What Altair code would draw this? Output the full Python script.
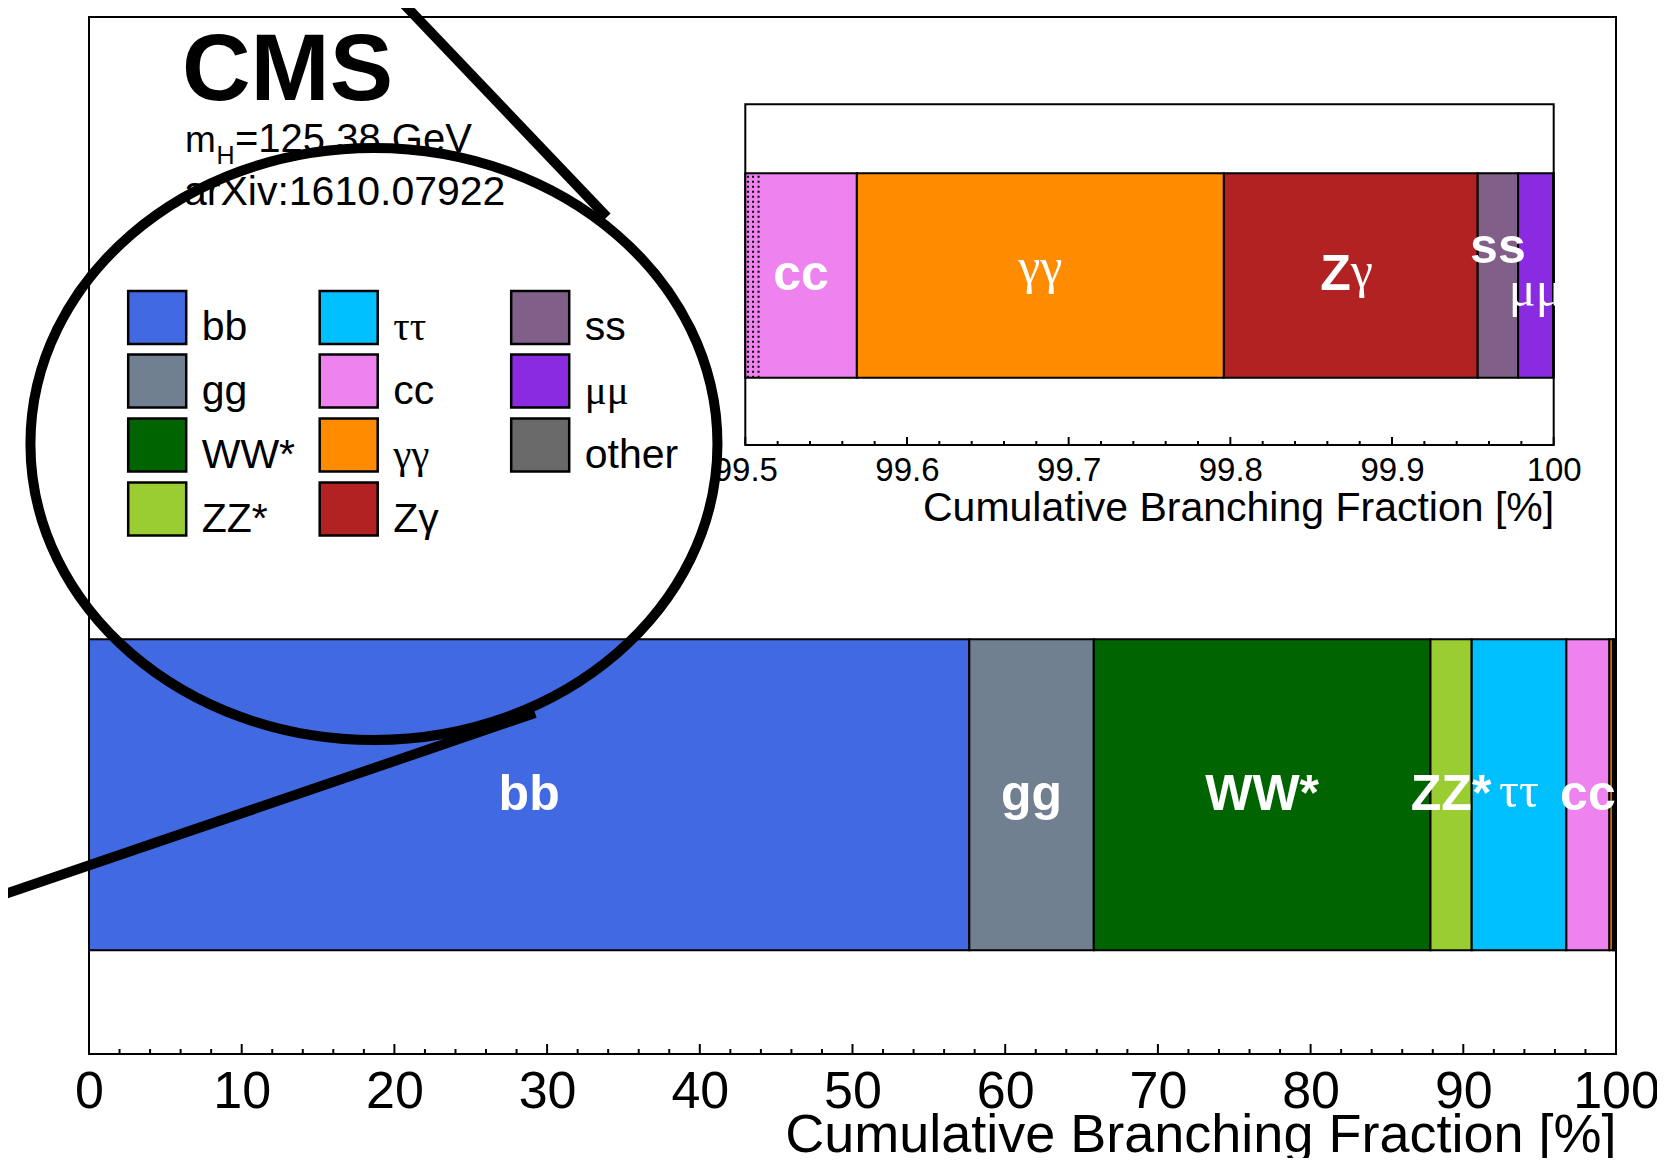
import altair as alt
import pandas as pd

# ---------------- data ----------------
channels = ["bb", "gg", "WW*", "ZZ*", "ττ", "cc", "γγ", "Zγ", "ss", "μμ", "other"]
branching_pct = [57.65, 8.15, 22.05, 2.70, 6.20, 2.819, 0.227, 0.157, 0.025, 0.0217, 0.0003]
channel_colors = ["#4169E1", "#708090", "#006400", "#9ACD32", "#00BFFF", "#EE82EE",
                  "#FF8C00", "#B22222", "#805F88", "#8A2BE2", "#696969"]
legend_order = ["bb", "gg", "WW*", "ZZ*", "ττ", "cc", "γγ", "Zγ", "ss", "μμ", "other"]
greek_labels = ["ττ", "γγ", "μμ"]

main_labels_sans = ["bb", "gg", "WW*", "ZZ*", "cc"]
main_labels_serif = ["ττ"]
inset_labels_sans = ["cc"]
inset_labels_serif = ["γγ"]

main_major_ticks = [0, 10, 20, 30, 40, 50, 60, 70, 80, 90, 100]
main_minor_ticks = [v for v in range(0, 101, 2) if v % 10]
inset_major_ticks = [99.5, 99.6, 99.7, 99.8, 99.9, 100.0]
inset_minor_ticks = [round(99.5 + 0.02 * i, 2) for i in range(26) if i % 5]
inset_hatch_x = [99.5017, 99.5048, 99.5082]

# magnifier decoration (x in %, y as fraction of the frame height)
lens_x = [18.66]
lens_y = [0.5882]
connector_seg = ["a", "a", "b", "b"]
connector_x = [19.12, 33.92, -7.79, 29.21]
connector_y = [1.0357, 0.8071, 0.1427, 0.3288]

# ---------------- layout ----------------
W, H = 1527, 1037
FONT = "Liberation Sans"
SERIF = "Liberation Serif"
INSET_LO, INSET_HI = 99.5, 100.0

df = pd.DataFrame({"name": channels, "value": branching_pct})
df["end"] = df["value"].cumsum()
df["start"] = df["end"] - df["value"]
df["mid"] = (df["start"] + df["end"]) / 2
df["imid"] = (df["start"].clip(lower=INSET_LO) + df["end"]) / 2

color_map = dict(zip(channels, channel_colors))
rect_path = "M -1.036 -1.339 L 1.036 -1.339 L 1.036 0.554 L -1.036 0.554 Z"
greek_js = "[" + ",".join(f"'{g}'" for g in greek_labels) + "]"
color_enc = alt.Color(
    "name:N",
    scale=alt.Scale(domain=legend_order, range=[color_map[n] for n in legend_order]),
    legend=alt.Legend(
        title=None, orient="none", legendX=38.7, legendY=281.5, columns=3,
        symbolType=rect_path, symbolSize=3136, symbolStrokeColor="black",
        symbolStrokeWidth=2.5, symbolOpacity=1,
        labelFont={"expr": f"indexof({greek_js}, datum.value) >= 0 ? '{SERIF}' : '{FONT}'"},
        labelFontSize=41, labelColor="black", labelOffset=15, labelLimit=400, rowPadding=0,
        columnPadding=18.5, gridAlign="all", padding=0,
    ),
)

yscale = alt.Scale(domain=[0, 1], nice=False, zero=False)


def mx():
    return alt.Scale(domain=[0, 100], nice=False, zero=False)


def ix():
    return alt.Scale(domain=[INSET_LO, INSET_HI], range=[656.3, 1464.7], nice=False, zero=False, clamp=True)


def ydat(v):
    return alt.Y(datum=v, type="quantitative", scale=yscale, axis=None)


layers = []

# ---------------- main panel ----------------
main_axis = alt.Axis(
    orient="bottom", values=main_major_ticks, format="d", ticks=False, domain=False, grid=False,
    labelFont=FONT, labelFontSize=52, labelColor="black", labelPadding=12,
    labelFlush=False, labelOverlap=False,
    title="Cumulative Branching Fraction [%]", titleFont=FONT, titleFontSize=54,
    titleFontWeight="normal", titleColor="black", titleAnchor="end", titleAlign="right",
    titleBaseline="alphabetic", titleY=97)

layers.append(alt.Chart(df).mark_rect(stroke="black", strokeWidth=2).encode(
    x=alt.X("start:Q", scale=mx(), axis=main_axis),
    x2="end:Q",
    y=ydat(0.1), y2=alt.Y2(datum=0.4),
    color=color_enc,
))

layers.append(alt.Chart(df).transform_filter(
    alt.FieldOneOfPredicate(field="name", oneOf=main_labels_sans)
).mark_text(font=FONT, fontWeight="bold", fontSize=50, color="white", baseline="middle").encode(
    x=alt.X("mid:Q", scale=mx(), axis=None), y=ydat(0.25), text="name:N"))

layers.append(alt.Chart(df).transform_filter(
    alt.FieldOneOfPredicate(field="name", oneOf=main_labels_serif)
).mark_text(font=SERIF, fontSize=50, color="white", baseline="middle", dy=-3).encode(
    x=alt.X("mid:Q", scale=mx(), axis=None), y=ydat(0.25), text="name:N"))

layers.append(alt.Chart(pd.DataFrame({"v": main_major_ticks})).mark_rule(color="black", strokeWidth=2).encode(
    x=alt.X("v:Q", scale=mx(), axis=None), y=alt.value(H), y2=alt.value(H - 10)))
layers.append(alt.Chart(pd.DataFrame({"v": main_minor_ticks})).mark_rule(color="black", strokeWidth=2).encode(
    x=alt.X("v:Q", scale=mx(), axis=None), y=alt.value(H), y2=alt.value(H - 5)))

# ---------------- inset panel ----------------
IY0, IY1 = 0.5873, 0.9158   # inset frame
BY0, BY1 = 0.6522, 0.8493   # inset bar
BYC = (BY0 + BY1) / 2

inset_axis = alt.Axis(
    orient="bottom", values=inset_major_ticks,
    labelExpr="datum.value >= 99.99 ? '100' : format(datum.value, '.1f')",
    ticks=False, domain=False, grid=False, offset=-609,
    labelFont=FONT, labelFontSize=33, labelColor="black", labelPadding=9,
    labelFlush=False, labelOverlap=False,
    title="Cumulative Branching Fraction [%]", titleFont=FONT, titleFontSize=41,
    titleFontWeight="normal", titleColor="black", titleAnchor="end", titleAlign="right",
    titleBaseline="alphabetic", titleY=75)

layers.append(alt.Chart(pd.DataFrame({"k": [0]})).mark_rect(
    fill="white", stroke="black", strokeWidth=2).encode(
    x=alt.X(datum=INSET_LO, type="quantitative", scale=ix(), axis=inset_axis),
    x2=alt.X2(datum=INSET_HI),
    y=ydat(IY0), y2=alt.Y2(datum=IY1),
))

layers.append(alt.Chart(df).transform_filter(f"datum.end > {INSET_LO}").mark_rect(
    stroke="black", strokeWidth=2).encode(
    x=alt.X("start:Q", scale=ix(), axis=None), x2="end:Q",
    y=ydat(BY0), y2=alt.Y2(datum=BY1), color=color_enc))

layers.append(alt.Chart(pd.DataFrame({"v": inset_hatch_x})).mark_rule(
    color="black", strokeWidth=2, strokeDash=[2, 3]).encode(
    x=alt.X("v:Q", scale=ix(), axis=None), y=ydat(BY0), y2=alt.Y2(datum=BY1)))

layers.append(alt.Chart(df).transform_filter(
    alt.FieldOneOfPredicate(field="name", oneOf=inset_labels_sans)
).mark_text(font=FONT, fontWeight="bold", fontSize=50, color="white", baseline="middle").encode(
    x=alt.X("imid:Q", scale=ix(), axis=None), y=ydat(BYC), text="name:N"))

layers.append(alt.Chart(df).transform_filter(
    alt.FieldOneOfPredicate(field="name", oneOf=inset_labels_serif)
).mark_text(font=SERIF, fontSize=50, color="white", baseline="middle", dy=-7).encode(
    x=alt.X("imid:Q", scale=ix(), axis=None), y=ydat(BYC), text="name:N"))

zg = alt.Chart(df).transform_filter(alt.datum.name == "Zγ")
layers.append(zg.mark_text(text="Z", font=FONT, fontWeight="bold", fontSize=50, color="white",
                           baseline="middle", align="right").encode(
    x=alt.X("imid:Q", scale=ix(), axis=None), y=ydat(BYC)))
layers.append(zg.mark_text(text="γ", font=SERIF, fontSize=50, color="white",
                           baseline="middle", align="left", dy=-3).encode(
    x=alt.X("imid:Q", scale=ix(), axis=None), y=ydat(BYC)))

layers.append(alt.Chart(df).transform_filter(alt.datum.name == "ss").mark_text(
    font=FONT, fontWeight="bold", fontSize=50, color="white", baseline="middle", dy=-27).encode(
    x=alt.X("imid:Q", scale=ix(), axis=None), y=ydat(BYC), text="name:N"))
layers.append(alt.Chart(df).transform_filter(alt.datum.name == "μμ").mark_text(
    font=SERIF, fontSize=50, color="white", baseline="middle", dy=16).encode(
    x=alt.X("imid:Q", scale=ix(), axis=None), y=ydat(BYC), text="name:N"))

layers.append(alt.Chart(pd.DataFrame({"v": inset_major_ticks})).mark_rule(color="black", strokeWidth=2).encode(
    x=alt.X("v:Q", scale=ix(), axis=None), y=alt.value(428), y2=alt.value(420)))
layers.append(alt.Chart(pd.DataFrame({"v": inset_minor_ticks})).mark_rule(color="black", strokeWidth=2).encode(
    x=alt.X("v:Q", scale=ix(), axis=None), y=alt.value(428), y2=alt.value(424)))

# ---------------- annotations and magnifier ----------------
blank = alt.Chart(pd.DataFrame({"k": [0]}))


def ann(text, size, x, y, bold=False):
    return blank.mark_text(text=text, font=FONT, fontWeight="bold" if bold else "normal",
                           fontSize=size, color="black", align="left",
                           baseline="alphabetic").encode(x=alt.value(x), y=alt.value(y))


layers += [
    ann("CMS", 95, 93, 83, bold=True),
    ann("m", 37, 96, 135),
    ann("H", 25, 127.5, 147),
    ann("=125.38 GeV", 40, 146, 135),
    ann("arXiv:1610.07922", 41, 95, 188),
]

k = 0.5523
a = 343.5 / 296.0
ka = k * a
ellipse_path = (f"M {a:.4f} 0 C {a:.4f} {k} {ka:.4f} 1 0 1 C {-ka:.4f} 1 {-a:.4f} {k} {-a:.4f} 0 "
                f"C {-a:.4f} {-k} {-ka:.4f} -1 0 -1 C {ka:.4f} -1 {a:.4f} {-k} {a:.4f} 0 Z")
layers.append(alt.Chart(pd.DataFrame({"x": lens_x, "y": lens_y})).mark_point(
    shape=ellipse_path, size=592 ** 2, filled=False, stroke="black", strokeWidth=10, opacity=1).encode(
    x=alt.X("x:Q", scale=mx(), axis=None), y=alt.Y("y:Q", scale=yscale, axis=None)))

layers.append(alt.Chart(pd.DataFrame({"seg": connector_seg, "x": connector_x, "y": connector_y})).mark_line(
    color="black", strokeWidth=10, strokeCap="butt").encode(
    x=alt.X("x:Q", scale=mx(), axis=None), y=alt.Y("y:Q", scale=yscale, axis=None), detail="seg:N"))

chart = alt.layer(*layers).resolve_scale(
    x="independent"
).properties(
    width=W, height=H,
    autosize=alt.AutoSizeParams(type="none"),
    padding={"left": 81, "top": 9, "right": 41, "bottom": 104},
).configure(
    font=FONT, background="white",
    view=alt.ViewConfig(stroke="black", strokeWidth=2),
)

chart.save("out.html", embed_options={"renderer": "svg", "actions": False})
